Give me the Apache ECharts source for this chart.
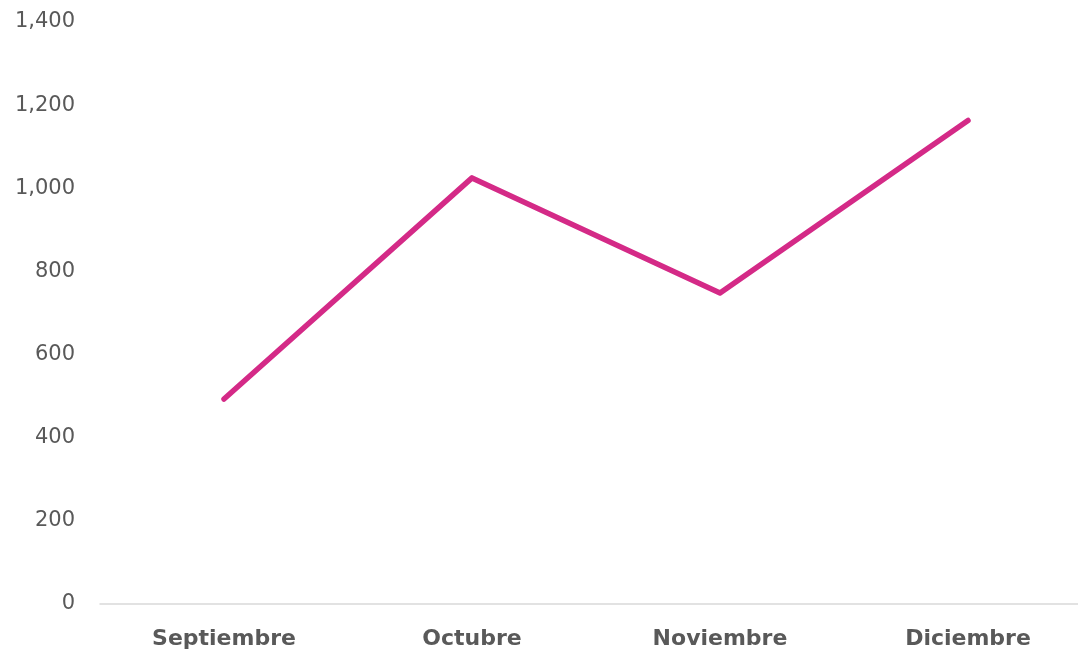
<!DOCTYPE html>
<html><head><meta charset="utf-8">
<script src="https://cdn.jsdelivr.net/npm/echarts@6/dist/echarts.min.js"></script>
<style>html,body{margin:0;padding:0;background:#fff}#c{width:1078px;height:654px}</style>
</head><body><div id="c"></div>
<script>
const categories = ['Septiembre', 'Octubre', 'Noviembre', 'Diciembre'];
const values = [493, 1025, 748, 1163];
const yTicks = { min: 0, max: 1400, interval: 200 };

const chart = echarts.init(document.getElementById('c'));
chart.setOption({
  animation: false,
  grid: { left: 100, top: 22, width: 992, height: 582, containLabel: false, outerBoundsMode: 'none' },
  xAxis: {
    type: 'category', data: categories, boundaryGap: true,
    axisLine: { lineStyle: { color: '#d9d9d9', width: 1.5 } },
    axisTick: { show: false },
    axisLabel: { color: '#595959', fontSize: 22, fontWeight: 'bold', fontFamily: 'DejaVu Sans', margin: 24 }
  },
  yAxis: {
    type: 'value', min: yTicks.min, max: yTicks.max, interval: yTicks.interval,
    splitLine: { show: false }, axisLine: { show: false }, axisTick: { show: false },
    axisLabel: { color: '#595959', fontSize: 21, fontFamily: 'DejaVu Sans', margin: 25, padding: [4, 0, 0, 0],
      formatter: v => v.toLocaleString('en-US') }
  },
  series: [{
    type: 'line', data: values, symbol: 'none',
    lineStyle: { color: '#D42A87', width: 5.5, cap: 'round', join: 'round' }
  }]
});
</script></body></html>
